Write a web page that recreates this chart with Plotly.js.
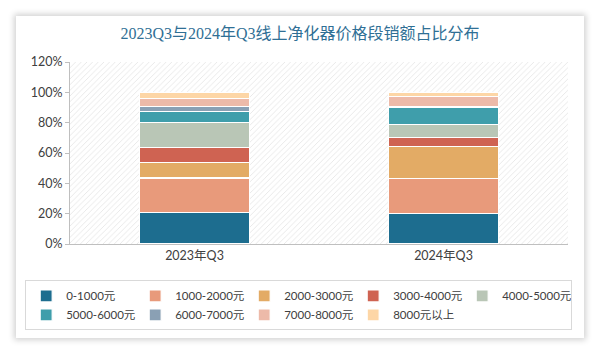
<!DOCTYPE html>
<html>
<head>
<meta charset="utf-8">
<script src="https://cdn.plot.ly/plotly-3.0.1.min.js"></script>
<style>
  html, body { margin: 0; padding: 0; background: #ffffff; }
  #wrap { position: relative; width: 600px; height: 350px; overflow: hidden; }
  #card { position: absolute; left: 16px; top: 16px; width: 568px; height: 322px; background: #fff;
          box-shadow: 0 0 6px 2px rgba(0,0,0,0.18); }
  #chart { position: absolute; left: 0; top: 0; width: 600px; height: 350px; }
</style>
</head>
<body>
<div id="wrap">
  <div id="card"></div>
  <div id="chart"></div>
</div>
<script>
// ---- data ----
const categories = ['2023年Q3', '2024年Q3'];
const seriesNames = ['0-1000元', '1000-2000元', '2000-3000元', '3000-4000元', '4000-5000元',
                     '5000-6000元', '6000-7000元', '7000-8000元', '8000元以上'];
const s0_1000     = [21.0, 20.3];
const s1000_2000  = [22.5, 22.9];
const s2000_3000  = [10.5, 21.2];
const s3000_4000  = [9.8, 5.6];
const s4000_5000  = [16.5, 8.8];
const s5000_6000  = [7.3, 11.5];
const s6000_7000  = [3.1, 0.3];
const s7000_8000  = [5.3, 6.6];
const s8000_plus  = [4.0, 2.8];
const yTickVals   = [0, 20, 40, 60, 80, 100, 120];
const yTickText   = ['0%', '20%', '40%', '60%', '80%', '100%', '120%'];

const seriesValues = [s0_1000, s1000_2000, s2000_3000, s3000_4000, s4000_5000,
                      s5000_6000, s6000_7000, s7000_8000, s8000_plus];
const colors = ['#1d6d8f', '#e89a7b', '#e3ab65', '#cf6352', '#b9c6b6',
                '#3f9eab', '#8aa0b4', '#edbaa9', '#fdd6a6'];

const font = "Lato, 'Noto Sans CJK SC', sans-serif";

// hatched plot background (base subplot)
const bg = {
  type: 'bar', x: [0.5], y: [120], width: [1], xaxis: 'x', yaxis: 'y',
  marker: { color: '#ffffff', line: { width: 0 },
            pattern: { shape: '/', fgcolor: '#e4e4e4', bgcolor: '#ffffff', size: 4, solidity: 0.2 } },
  hoverinfo: 'skip', showlegend: false
};

const traces = [bg];
seriesNames.forEach((name, i) => {
  traces.push({
    type: 'bar', name: name, x: categories, y: seriesValues[i],
    xaxis: 'x2', yaxis: 'y', width: 0.44,
    marker: { color: colors[i], line: { color: '#ffffff', width: 1.2 } },
    hovertemplate: '%{x} ' + name + ': %{y}%<extra></extra>'
  });
});

const layout = {
  width: 600, height: 350,
  paper_bgcolor: 'rgba(0,0,0,0)', plot_bgcolor: 'rgba(0,0,0,0)',
  margin: { l: 70, r: 32, t: 62, b: 106 },
  barmode: 'stack', bargap: 0.56,
  title: { text: '2023Q3与2024年Q3线上净化器价格段销额占比分布', x: 0.5, xanchor: 'center', y: 0.905, yanchor: 'middle',
           font: { family: "'Liberation Serif', 'Noto Sans CJK SC', serif", size: 16, color: '#2f6f95' } },
  xaxis: { range: [0, 1], visible: false, fixedrange: true },
  xaxis2: { type: 'category', overlaying: 'x', side: 'bottom', anchor: 'y',
            showline: true, linecolor: '#bfbfbf', linewidth: 1, ticks: '', showgrid: false,
            tickfont: { family: font, size: 12.5, color: '#404040' } },
  yaxis: { range: [0, 120], tickvals: yTickVals, ticktext: yTickText,
           showline: true, linecolor: '#bfbfbf', linewidth: 1, ticks: 'outside', ticklen: 4,
           tickcolor: '#bfbfbf', showgrid: false, zeroline: false,
           tickfont: { family: font, size: 12.5, color: '#404040' } },
  legend: { orientation: 'h', x: -0.09, xanchor: 'left', y: -0.2, yanchor: 'top',
            entrywidth: 64, entrywidthmode: 'pixels', itemwidth: 30,
            bordercolor: '#d9d9d9', borderwidth: 1, bgcolor: '#ffffff',
            traceorder: 'normal', tracegroupgap: 0,
            font: { family: font, size: 11.5, color: '#404040' } },
  showlegend: true
};

Plotly.newPlot('chart', traces, layout, { displayModeBar: false, staticPlot: true });
</script>
</body>
</html>
